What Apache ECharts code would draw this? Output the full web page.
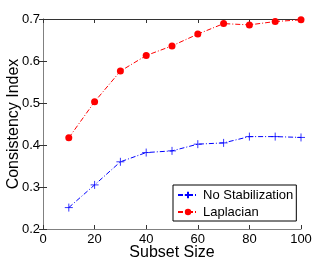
<!DOCTYPE html>
<html><head><meta charset="utf-8">
<script src="https://cdn.jsdelivr.net/npm/echarts@6/dist/echarts.min.js"></script>
<style>html,body{margin:0;padding:0;background:#fff}#c{width:332px;height:262px}</style>
</head><body><div id="c"></div>
<script>
const subsetSizes = [10, 20, 30, 40, 50, 60, 70, 80, 90, 100];
const noStabilization = [0.251, 0.305, 0.360, 0.382, 0.386, 0.402, 0.405, 0.420, 0.420, 0.418];
const laplacian = [0.417, 0.503, 0.576, 0.613, 0.636, 0.664, 0.689, 0.686, 0.694, 0.698];
const xTicks = [0, 20, 40, 60, 80, 100];
const yTicks = [0.2, 0.3, 0.4, 0.5, 0.6, 0.7];

const font = 'Liberation Sans, Arial, sans-serif';
const plus = 'path://M0,5H10M5,0V10';
const chart = echarts.init(document.getElementById('c'), null, {renderer: 'canvas'});
const grayLine = {show: true, lineStyle: {color: '#808080', width: 1}};
const darkLine = {show: true, lineStyle: {color: '#333', width: 1}};
const axisTick = {show: true, inside: true, length: 4, lineStyle: {color: '#333'}};
chart.setOption({
  animation: false,
  grid: {left: 43, top: 19, right: 31, bottom: 33, outerBoundsMode: 'none', containLabel: false},
  xAxis: [
    {type: 'value', min: 0, max: 100, interval: 20, axisLine: grayLine, axisTick,
     splitLine: {show: false},
     axisLabel: {color: '#000', fontFamily: font, fontSize: 13, margin: 4,
       formatter: v => xTicks.includes(v) ? String(v) : ''},
     name: 'Subset Size', nameLocation: 'middle', nameGap: 16, nameMoveOverlap: false,
     nameTextStyle: {color: '#000', fontFamily: font, fontSize: 16}},
    {type: 'value', min: 0, max: 100, interval: 20, position: 'top', axisLine: darkLine, axisTick,
     splitLine: {show: false}, axisLabel: {show: false}}
  ],
  yAxis: [
    {type: 'value', min: 0.2, max: 0.7, interval: 0.1, axisLine: grayLine, axisTick,
     splitLine: {show: false},
     axisLabel: {color: '#000', fontFamily: font, fontSize: 13, margin: 3,
       formatter: v => { const t = yTicks.find(y => Math.abs(y - v) < 1e-6); return t !== undefined ? t.toFixed(1) : ''; }},
     name: 'Consistency Index', nameLocation: 'middle', nameGap: 21, nameMoveOverlap: false,
     nameTextStyle: {color: '#000', fontFamily: font, fontSize: 16}},
    {type: 'value', min: 0.2, max: 0.7, interval: 0.1, position: 'right', axisLine: grayLine, axisTick,
     splitLine: {show: false}, axisLabel: {show: false}}
  ],
  legend: {
    orient: 'vertical', left: 173, top: 185,
    backgroundColor: '#fff', borderColor: '#000', borderWidth: 1, borderRadius: 0,
    padding: [3, 3, 2, 4], itemGap: 3, itemWidth: 20, itemHeight: 8,
    textStyle: {color: '#000', fontFamily: font, fontSize: 13, lineHeight: 14},
    data: ['No Stabilization', 'Laplacian']
  },
  series: [
    {name: 'No Stabilization', type: 'line',
     data: subsetSizes.map((x, i) => [x, noStabilization[i]]),
     color: '#0000ff', symbol: plus, symbolSize: 8,
     itemStyle: {color: 'none', borderColor: '#0000ff', borderWidth: 0.8},
     lineStyle: {color: '#0000ff', width: 1, type: [5, 2, 1, 2]}},
    {name: 'Laplacian', type: 'line',
     data: subsetSizes.map((x, i) => [x, laplacian[i]]),
     color: '#ff0000', symbol: 'circle', symbolSize: 7,
     itemStyle: {color: '#ff0000'},
     lineStyle: {color: '#ff0000', width: 1, type: [5, 2, 1, 2]}}
  ]
});
</script></body></html>
